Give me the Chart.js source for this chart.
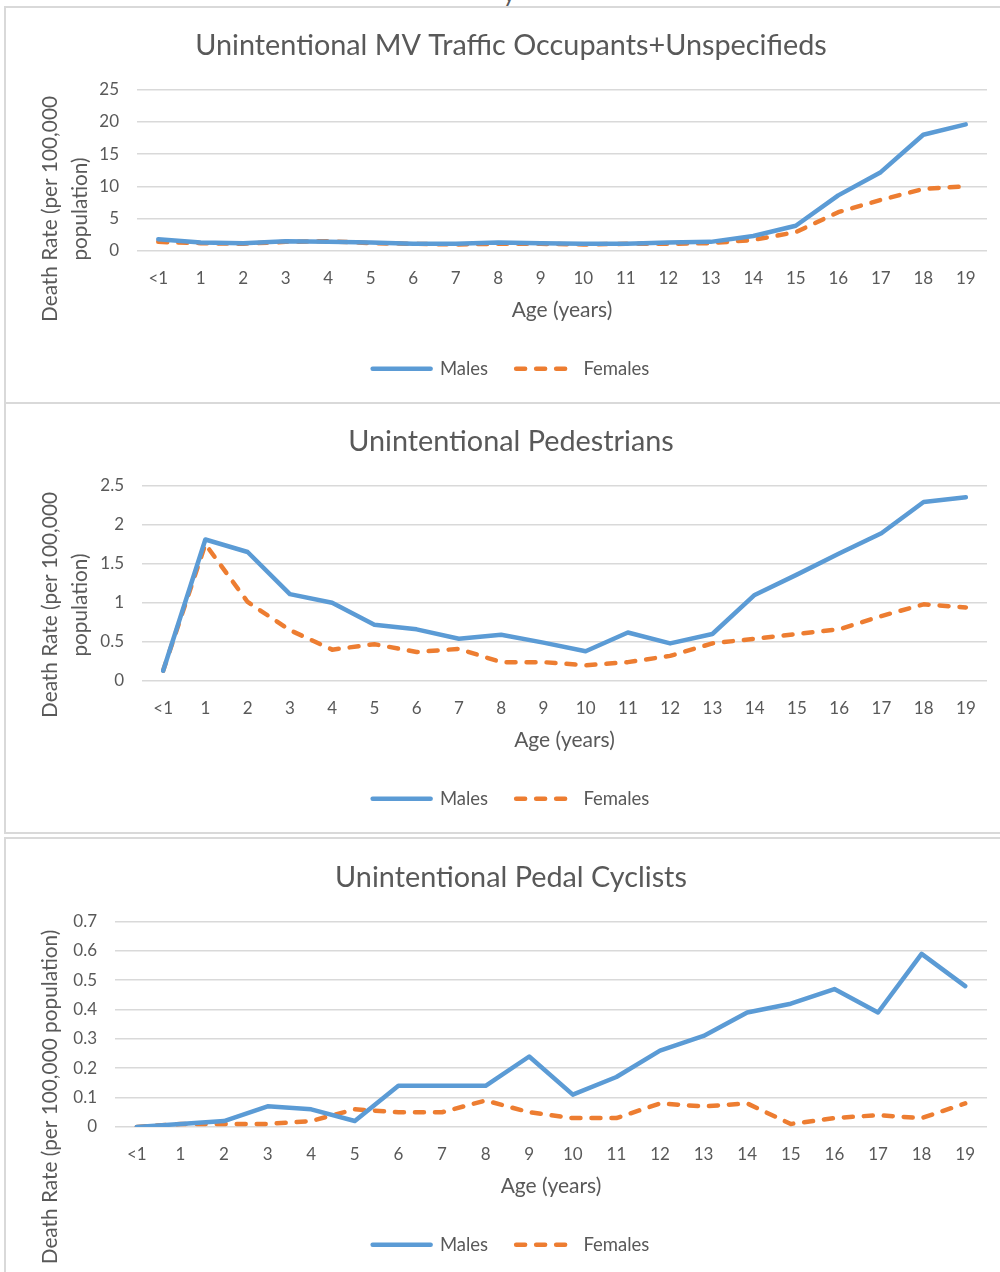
<!DOCTYPE html>
<html>
<head>
<meta charset="utf-8">
<script src="https://cdn.jsdelivr.net/npm/chart.js@4.4.1/dist/chart.umd.min.js"></script>
<style>
  html, body { margin: 0; padding: 0; background: #fff; }
  body { width: 1000px; height: 1272px; overflow: hidden; position: relative; font-family: Lato, sans-serif; }
  .panel { position: absolute; left: 4px; width: 1030px; border: 2px solid #d9d9d9; box-sizing: border-box; }
  canvas { position: absolute; left: 5px; }
  #topText { position: absolute; left: 503px; top: -22px; font-size: 24px; color: #595959; }
</style>
</head>
<body>
<div id="topText">y</div>
<div class="panel" style="top:6px;height:398px;"></div>
<div class="panel" style="top:402px;height:432px;"></div>
<div class="panel" style="top:837px;height:460px;"></div>
<canvas id="mvChart" width="1012" height="394" style="top:8px;"></canvas>
<canvas id="pedChart" width="1012" height="428" style="top:404px;"></canvas>
<canvas id="cycChart" width="1012" height="438" style="top:840px;"></canvas>
<script>
const ages = ['<1','1','2','3','4','5','6','7','8','9','10','11','12','13','14','15','16','17','18','19'];

// MV traffic occupants + unspecifieds
const mvMales   = [1.8,1.3,1.2,1.5,1.4,1.3,1.1,1.1,1.3,1.2,1.1,1.1,1.3,1.4,2.3,3.9,8.6,12.2,18.0,19.6];
const mvFemales = [1.4,1.2,1.1,1.4,1.5,1.2,1.1,1.0,1.1,1.1,1.0,1.1,1.1,1.2,1.7,2.9,6.0,7.9,9.6,10.0];

// pedestrians
const pedMales   = [0.13,1.81,1.65,1.11,1.0,0.72,0.66,0.54,0.59,0.49,0.38,0.62,0.48,0.60,1.10,1.36,1.63,1.89,2.29,2.35];
const pedFemales = [0.13,1.75,1.01,0.65,0.40,0.47,0.37,0.41,0.24,0.24,0.20,0.24,0.32,0.48,0.54,0.60,0.66,0.83,0.98,0.94];

// pedal cyclists
const cycMales   = [0,0.01,0.02,0.07,0.06,0.02,0.14,0.14,0.14,0.24,0.11,0.17,0.26,0.31,0.39,0.42,0.47,0.39,0.59,0.48];
const cycFemales = [0,0.01,0.01,0.01,0.02,0.06,0.05,0.05,0.09,0.05,0.03,0.03,0.08,0.07,0.08,0.01,0.03,0.04,0.03,0.08];

const textColor = '#595959';
const gridColor = '#d9d9d9';
const blue = '#5B9BD5';
const orange = '#ED7D31';
const fontName = 'Lato';

// rotated y axis title, drawn by hand so it can sit off-centre like excel does
const yTitlePlugin = {
    id: 'yTitle',
    afterDraw(chart, args, opts){
        const ctx = chart.ctx;
        ctx.save();
        ctx.font = opts.size + 'px ' + fontName;
        ctx.fillStyle = textColor;
        ctx.textAlign = 'center';
        ctx.textBaseline = 'middle';
        for(let i = 0; i < opts.lines.length; i += 1){
            ctx.save();
            ctx.translate(opts.x + i * opts.gap, opts.y);
            ctx.rotate(-Math.PI / 2);
            ctx.fillText(opts.lines[i], 0, 0);
            ctx.restore();
        }
        ctx.restore();
    }
};

function drawChart(id, title, males, females, yMax, yStep, yAxisWidth, yTitle){
    const ctx = document.getElementById(id).getContext('2d');
    return new Chart(ctx, {
        type: 'line',
        data: {
            labels: ages,
            datasets: [{
                label: 'Males',
                data: males,
                borderColor: blue,
                backgroundColor: blue,
                borderWidth: 4.5,
                pointRadius: 0,
                tension: 0,
                borderCapStyle: 'round',
                borderJoinStyle: 'round'
            }, {
                label: 'Females',
                data: females,
                borderColor: orange,
                backgroundColor: orange,
                borderWidth: 4.5,
                borderDash: [9, 11],
                pointRadius: 0,
                tension: 0,
                borderCapStyle: 'round',
                borderJoinStyle: 'round'
            }]
        },
        options: {
            responsive: false,
            animation: false,
            layout: { padding: { left: 0, right: 0, bottom: 14 } },
            scales: {
                x: {
                    offset: true,
                    grid: { display: false, drawTicks: false },
                    border: { display: false },
                    ticks: { color: textColor, font: { family: fontName, size: 17 }, padding: 17, maxRotation: 0, autoSkip: false },
                    title: { display: true, text: 'Age (years)', color: textColor, font: { family: fontName, size: 21 }, padding: { top: -8, bottom: 9 } }
                },
                y: {
                    min: 0,
                    max: yMax,
                    grid: { color: gridColor, lineWidth: 1.5, drawTicks: false },
                    border: { display: false },
                    ticks: {
                        stepSize: yStep,
                        color: textColor,
                        font: { family: fontName, size: 17 },
                        padding: 18,
                        callback: v => String(+v.toFixed(2))
                    },
                    afterFit: scale => { scale.width = yAxisWidth; }
                },
                // empty axis on the right, only there to leave the gap excel leaves
                yRight: {
                    type: 'linear',
                    position: 'right',
                    grid: { display: false, drawTicks: false },
                    border: { display: false },
                    ticks: { display: false },
                    afterFit: scale => { scale.width = 30; }
                }
            },
            plugins: {
                title: { display: true, text: title, color: textColor, font: { family: fontName, size: 28.8, weight: 'normal' }, padding: { top: 20, bottom: 27 } },
                legend: {
                    position: 'bottom',
                    labels: {
                        color: textColor,
                        font: { family: fontName, size: 18.5 },
                        usePointStyle: true,
                        pointStyleWidth: 58,
                        padding: 28,
                        generateLabels: chart => chart.data.datasets.map((ds, i) => ({
                            text: ds.label,
                            fillStyle: ds.borderColor,
                            strokeStyle: ds.borderColor,
                            lineWidth: 4.5,
                            lineDash: ds.borderDash || [],
                            lineCap: 'round',
                            pointStyle: 'line',
                            fontColor: textColor,
                            datasetIndex: i
                        }))
                    }
                },
                tooltip: { enabled: false },
                yTitle: yTitle
            }
        },
        plugins: [yTitlePlugin]
    });
}

drawChart('mvChart', 'Unintentional MV Traffic Occupants+Unspecifieds', mvMales, mvFemales, 25, 5, 132,
    { lines: ['Death Rate (per 100,000', 'population)'], x: 45, y: 201, gap: 30, size: 20.8 });
drawChart('pedChart', 'Unintentional Pedestrians', pedMales, pedFemales, 2.5, 0.5, 137,
    { lines: ['Death Rate (per 100,000', 'population)'], x: 45, y: 201, gap: 30, size: 20.8 });
drawChart('cycChart', 'Unintentional Pedal Cyclists', cycMales, cycFemales, 0.7, 0.1, 110,
    { lines: ['Death Rate (per 100,000 population)'], x: 45, y: 257, gap: 30, size: 20.8 });
</script>
</body>
</html>
